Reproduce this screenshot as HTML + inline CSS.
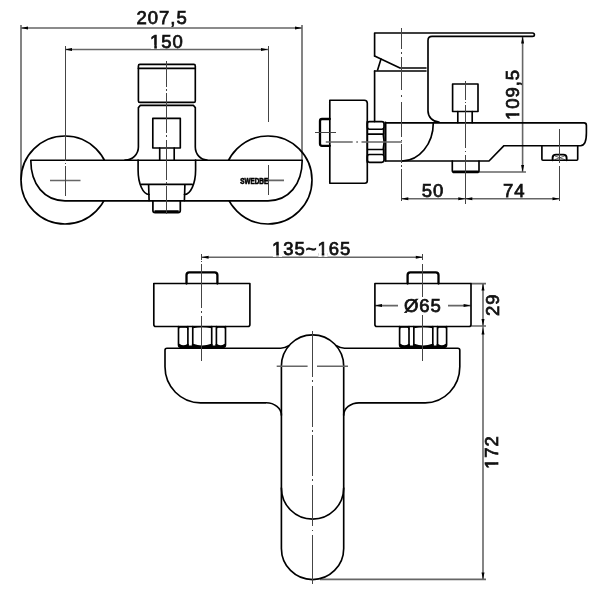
<!DOCTYPE html>
<html><head><meta charset="utf-8"><style>
html,body{margin:0;padding:0;background:#fff;width:600px;height:600px;overflow:hidden}
svg{display:block;filter:grayscale(1)}
.k{fill:none;stroke:#000;stroke-width:1.65;stroke-linejoin:round;stroke-linecap:round}
.kw{fill:#fff;stroke:#000;stroke-width:1.65;stroke-linejoin:round}
.n{fill:none;stroke:#666;stroke-width:1.6}
.c{fill:none;stroke:#444;stroke-width:1;shape-rendering:crispEdges}
.a{fill:#000;stroke:none}
.tx{font-family:"Liberation Sans",sans-serif;font-size:18.5px;fill:#111;stroke:#111;stroke-width:0.75;letter-spacing:0.95px}
</style></head><body>
<svg width="600" height="600" viewBox="0 0 600 600">
<!-- ============ FRONT VIEW (top-left) ============ -->
<g class="n">
  <path d="M21,25V180 M302,25V160 M21,28H302"/>
  <path d="M65,49.5H268"/>
</g>
<text class="tx" x="136.6" y="24">207,5</text>
<g transform="translate(150,47.5)"><text class="tx">150</text><rect x="0.90" y="-2.7" width="3.35" height="4.2" fill="#fff"/><rect x="6.85" y="-2.7" width="3.15" height="4.2" fill="#fff"/></g>

<g class="k">
  <circle cx="65" cy="180" r="44"/>
  <circle cx="268" cy="180" r="44"/>
</g>
<path class="kw" d="M30.8,160.2H302.2C302.2,184.6 288.5,200.8 268,200.8H65C44.5,200.8 30.8,184.6 30.8,160.2Z"/>
<path class="n" d="M50,180.5H80.5 M262,180.4H284"/>
<!-- cartridge -->
<g class="k">
  <path d="M125,160A13,13 0 0 0 138.4,147V107.6L140.4,105.3H193.3L195.3,107.6V147A12,13 0 0 0 207,160"/>
  <rect x="138.4" y="64.4" width="56.9" height="38" rx="1.5"/>
  <path d="M138.3,68.3H195.3"/>
  <rect x="152.8" y="118.3" width="27.5" height="29.7"/>
  <path d="M159.7,148V160M174.2,148V160"/>
  <path d="M138.1,160V170A11,24.5 0 0 0 149,194.5 M195.6,160V170A11.2,24.5 0 0 1 184.4,194.5"/>
  <path d="M141.5,184.4H192.2 M148.6,184.4L149.1,200.6 M184.9,184.4L184.4,200.6"/>
</g>
<path d="M152.9,201V210.4Q152.9,212.6 155.1,212.6H178.1Q180.3,212.6 180.3,210.4V201M154.5,211.2H178.7" fill="none" stroke="#000" stroke-width="1.7"/>
<text transform="translate(240.3,183.75) scale(0.74,1)" font-family="Liberation Sans" font-weight="bold" font-size="8.6" fill="#000" stroke="#000" stroke-width="0.65">SWEDBE</text>

<!-- ============ SIDE VIEW (top-right) ============ -->
<g class="n">
  <path d="M522.6,36V172 M479,172H526"/>
  <path d="M401.3,198.7H559.5"/>
</g>
<text class="tx" x="421.7" y="196.7">50</text>
<text class="tx" x="503" y="196.5">74</text>
<g transform="translate(519,120) rotate(-90)"><text class="tx">109,5</text><rect x="0.90" y="-2.7" width="3.35" height="4.2" fill="#fff"/><rect x="6.85" y="-2.7" width="3.15" height="4.2" fill="#fff"/></g>

<g class="k">
  <!-- handle -->
  <path d="M374.6,56V33H532.5Q534.4,33 534.4,34.7Q534.4,36.4 532.5,36.4H432Q428,36.4 428,40.4V110.7A11,11 0 0 0 439,122"/>
  <path d="M374.6,56L400,68H426 M374.6,71H426"/>
  <path d="M381,59L377.6,70"/>
  <path d="M374.6,71V121.6"/>
  <!-- flange -->
  <path d="M329.8,100.2H364.3Q367.3,100.2 367.3,103.2V180.7Q367.3,183.2 364.8,183.2H329.8Z"/>
  <path d="M329.8,119H322Q320,119 320,121V143.8Q320,145.8 322,145.8H329.8" stroke-width="2.3"/>
  <!-- nut -->
  <rect x="367.3" y="121.6" width="16.7" height="7.6" rx="2.2"/>
  <rect x="367.3" y="154.5" width="16.7" height="7.8" rx="2.2"/>
  <path d="M367.3,121.6V162.3M367.3,134.1H383.6V129.2M367.3,149.5H383.6V154.5M383.2,134.1Q385,141.8 383.2,149.5"/>
  <path d="M385.4,122.7V160.7" stroke-width="2.2"/>
  <!-- spout -->
  <path d="M385.7,122.9H584Q586.4,122.9 586.4,125.4V133C586.4,140.5 585,145.7 580.5,145.7H504L489,161H385.7"/>
  <path d="M433.3,122.7A31.3,38.3 0 0 1 402,161"/>
  <!-- diverter -->
  <rect x="452.6" y="84" width="25.4" height="27.5"/>
  <path d="M457.8,111.5V122.7M472.2,111.5V122.7"/>
  <!-- nozzle -->
  <path d="M452.3,161V170.5Q452.3,172.5 454.3,172.5H477Q479,172.5 479,170.5V161M453.8,171.2H477.5"/>
  <!-- aerator -->
  <path d="M541.9,145.7V159.2Q541.9,160.2 542.9,160.2H576.7Q577.7,160.2 577.7,159.2V145.7"/>
  <path d="M552.6,160.2V157.8Q552.6,154.6 556,154.6H563.3Q566.6,154.6 566.6,157.8V160.2" stroke-width="1.9"/>
  <path d="M555,156L564.5,159.5M555,159.5L564.5,156" stroke-width="0.6"/>
</g>

<!-- ============ BOTTOM VIEW ============ -->
<g class="n">
  <path d="M201.6,257.2H422.8"/>
  <path d="M375,305.6H398 M448,305.6H470.6"/>
  <path d="M470.6,283.6H486 M470.6,326H486"/>
  <path d="M483,283.6V579.4"/>
  <path d="M320,579.4H486"/>
</g>
<g transform="translate(272,255.4)"><text class="tx">135~165</text><rect x="0.90" y="-2.7" width="3.35" height="4.2" fill="#fff"/><rect x="6.85" y="-2.7" width="3.15" height="4.2" fill="#fff"/><rect x="46.36" y="-2.7" width="3.35" height="4.2" fill="#fff"/><rect x="52.31" y="-2.7" width="3.15" height="4.2" fill="#fff"/></g>
<text class="tx" x="404" y="312">Ø65</text>
<text class="tx" transform="translate(498.5,316) rotate(-90)">29</text>
<g transform="translate(498.3,469) rotate(-90)"><text class="tx">172</text><rect x="0.90" y="-2.7" width="3.35" height="4.2" fill="#fff"/><rect x="6.85" y="-2.7" width="3.15" height="4.2" fill="#fff"/></g>

<g class="k">
  <!-- left fitting -->
  <path d="M186.50,283.5V275Q186.50,272.3 189.20,272.3H214.70 Q217.40,272.3 217.40,275V283.5" stroke-width="2.3"/>
  <path d="M153.80,283.5H249.90 V324.5Q249.90,326.5 247.90,326.5H155.80 Q153.80,326.5 153.80,324.5Z"/>
  <path d="M178.50,326.5V344.8Q178.50,347.3 181.00,347.3H223.00 Q225.50,347.3 225.50,344.8V326.5"/>
  <path d="M187.90,326.5V346.8M192.75,326.5V346.8M211.70,326.5V346.8M216.40,326.5V346.8"/>
  <path d="M178.50,329.2Q178.50,327.3 180.60,327.3H185.80 Q187.90,327.3 187.90,329.2M216.40,329.2Q216.40,327.3 218.50,327.3H223.40 Q225.50,327.3 225.50,329.2M192.75,327.8Q202.20,325.6 211.70,327.8" stroke-width="1.1"/>
  <path d="M179.20,344.8Q183.20,347.6 187.90,344.8M192.75,344.8Q202.20,348.3 211.70,344.8M216.40,344.8Q221.00,347.6 224.80,344.8M179.50,346.6H224.50" stroke-width="2"/>
  <!-- right fitting -->
  <path d="M407.60,283.5V275Q407.60,272.3 410.30,272.3H435.80 Q438.50,272.3 438.50,275V283.5" stroke-width="2.3"/>
  <path d="M374.90,283.5H471.00 V324.5Q471.00,326.5 469.00,326.5H376.90 Q374.90,326.5 374.90,324.5Z"/>
  <path d="M399.60,326.5V344.8Q399.60,347.3 402.10,347.3H444.10 Q446.60,347.3 446.60,344.8V326.5"/>
  <path d="M409.00,326.5V346.8M413.85,326.5V346.8M432.80,326.5V346.8M437.50,326.5V346.8"/>
  <path d="M399.60,329.2Q399.60,327.3 401.70,327.3H406.90 Q409.00,327.3 409.00,329.2M437.50,329.2Q437.50,327.3 439.60,327.3H444.50 Q446.60,327.3 446.60,329.2M413.85,327.8Q423.30,325.6 432.80,327.8" stroke-width="1.1"/>
  <path d="M400.30,344.8Q404.30,347.6 409.00,344.8M413.85,344.8Q423.30,348.3 432.80,344.8M437.50,344.8Q442.10,347.6 445.90,344.8M400.60,346.6H445.60" stroke-width="2"/>
  <!-- body -->
  <path d="M288.8,345.6Q285,348.2 280.7,348.2H167Q165,348.2 165,350.2V366.8A35.5,36 0 0 0 200.5,402.8H266A15.3,12.5 0 0 1 281.4,415.3"/>
  <path d="M336.4,345.6Q340.2,348.2 344.5,348.2H457.8Q459.8,348.2 459.8,350.2V366.8A34.6,36 0 0 1 425.2,402.8H359A15.3,12.5 0 0 0 343.7,415.3"/>
  <!-- lever -->
  <path d="M281.4,548.4V366A31.15,31.15 0 0 1 343.7,366V548.4A31.15,31.15 0 0 1 281.4,548.4"/>
  <path d="M281.4,488A31.15,31.15 0 0 0 343.7,488"/>
</g>

<path class="c" d="M65.00,46.00V161.00 M65.00,162.70V164.30 M65.00,166.00V196.00 M268.00,46.00V122.00 M268.00,165.00V195.00 M166.70,60.50V86.50 M166.70,88.95V90.55 M166.70,93.00V133.00 M166.70,135.45V137.05 M166.70,139.50V180.00 M166.70,182.20V183.80 M166.70,186.00V213.50 M401.60,27.50V49.00 M401.60,52.20V53.80 M401.60,57.00V90.00 M401.60,95.05V96.65 M401.60,101.70V137.00 M401.60,139.70V141.30 M401.60,144.00V163.00 M401.60,165.20V166.80 M401.60,169.00V201.00 M465.30,80.50V100.00 M465.30,101.70V103.30 M465.30,105.00V148.00 M465.30,150.70V152.30 M465.30,155.00V204.00 M559.50,129.00V162.50 M559.50,166.00V201.00 M201.60,253.50V259.50 M201.60,260.70V262.30 M201.60,263.50V308.00 M201.60,311.20V312.80 M201.60,316.00V361.00 M422.70,253.50V259.50 M422.70,263.50V297.00 M422.70,315.00V361.00 M312.60,331.00V377.00 M312.60,380.45V382.05 M312.60,385.50V426.50 M312.60,429.95V431.55 M312.60,435.00V475.50 M312.60,479.45V481.05 M312.60,485.00V526.00 M312.60,529.70V531.30 M312.60,535.00V584.00"/>
<path class="c" d="M315.2,132.5H335.6"/>
<path class="n" d="M325.80,142.00H352.70 M356.30,142.00H357.90 M361.50,142.00H402.00 M276.70,366.20H307.60 M317.00,366.20H348.00"/>
<path class="a" d="M21.00,28.00L28.00,26.50L28.00,29.50Z M302.00,28.00L295.00,26.50L295.00,29.50Z M65.00,49.50L72.00,48.00L72.00,51.00Z M268.00,49.50L261.00,48.00L261.00,51.00Z M522.60,36.50L521.10,43.50L524.10,43.50Z M522.60,172.00L521.10,165.00L524.10,165.00Z M401.30,198.70L408.30,197.20L408.30,200.20Z M465.30,198.70L458.30,197.20L458.30,200.20Z M465.30,198.70L472.30,197.20L472.30,200.20Z M559.50,198.70L552.50,197.20L552.50,200.20Z M201.60,257.20L208.60,255.70L208.60,258.70Z M422.80,257.20L415.80,255.70L415.80,258.70Z M375.00,305.60L382.00,304.10L382.00,307.10Z M470.60,305.60L463.60,304.10L463.60,307.10Z M483.00,283.60L481.50,290.60L484.50,290.60Z M483.00,326.00L481.50,319.00L484.50,319.00Z M483.00,327.50L481.50,334.50L484.50,334.50Z M483.00,579.40L481.50,572.40L484.50,572.40Z"/>
</svg>
</body></html>
